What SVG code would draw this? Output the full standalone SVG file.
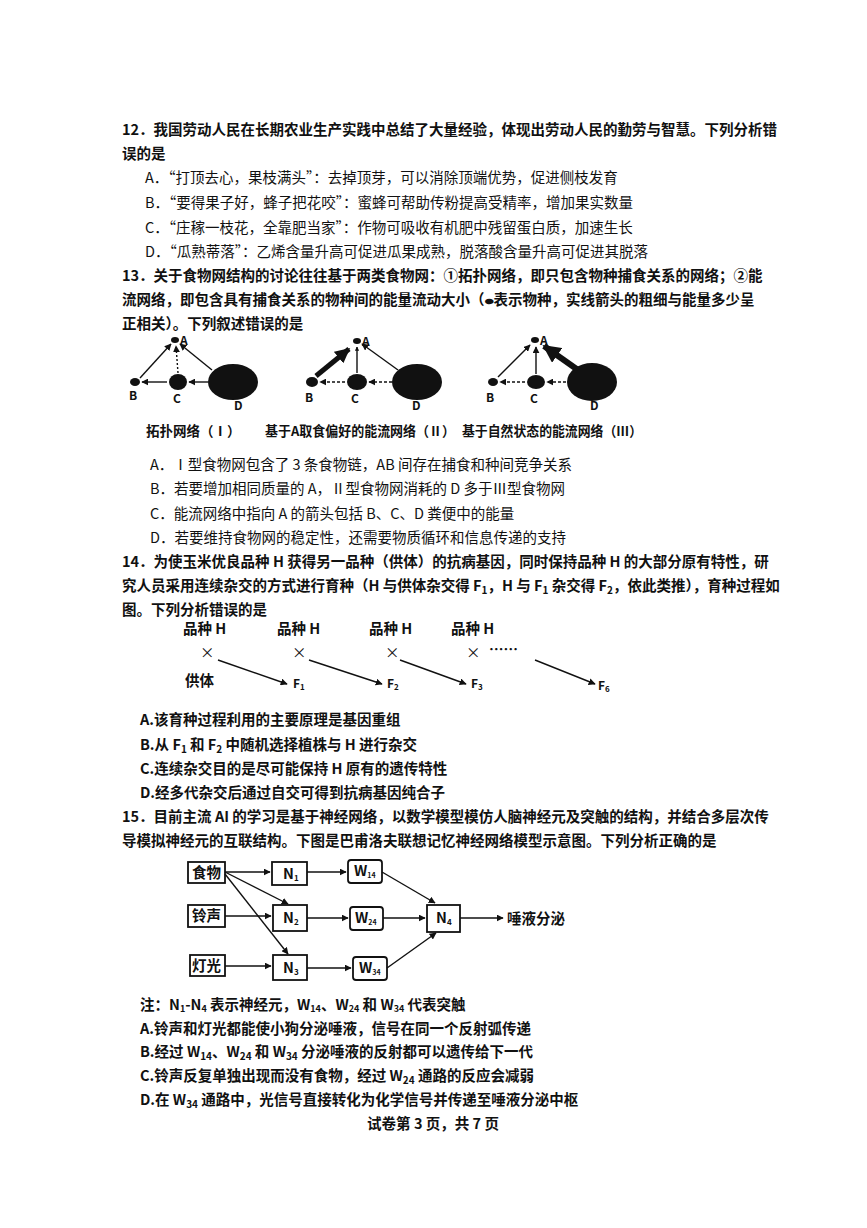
<svg xmlns="http://www.w3.org/2000/svg" width="867" height="1228" viewBox="0 0 867 1228">
<defs>
<marker id="ah" viewBox="0 0 10 10" refX="9" refY="5" markerWidth="5" markerHeight="5" orient="auto"><path d="M0,0L10,5L0,10z" fill="#111"/></marker>
<marker id="ahs" viewBox="0 0 10 10" refX="9" refY="5" markerWidth="3" markerHeight="3" orient="auto"><path d="M0,0L10,5L0,10z" fill="#111"/></marker>
</defs>
<style>
text{font-family:"Noto Sans CJK SC","Liberation Serif",serif;font-size:14.5px;fill:#111}
.b{font-weight:bold}
.sm{font-size:12px}
.cap{font-size:13.5px;font-weight:bold}
.box{fill:#fff;stroke:#111;stroke-width:1.8}
.ln{stroke:#111;stroke-width:1.4;fill:none}
.sp{fill:#111}
</style>
<rect width="867" height="1228" fill="#fff"/>
<g id="q12">
<text x="122" y="135" class="b">12．我国劳动人民在长期农业生产实践中总结了大量经验，体现出劳动人民的勤劳与智慧。下列分析错</text>
<text x="122" y="159" class="b">误的是</text>
<text x="145" y="183">A．“打顶去心，果枝满头”：去掉顶芽，可以消除顶端优势，促进侧枝发育</text>
<text x="145" y="208">B．“要得果子好，蜂子把花咬”：蜜蜂可帮助传粉提高受精率，增加果实数量</text>
<text x="145" y="233">C．“庄稼一枝花，全靠肥当家”：作物可吸收有机肥中残留蛋白质，加速生长</text>
<text x="145" y="257">D．“瓜熟蒂落”：乙烯含量升高可促进瓜果成熟，脱落酸含量升高可促进其脱落</text>
</g>
<g id="q13">
<text x="122" y="281" class="b">13．关于食物网结构的讨论往往基于两类食物网：①拓扑网络，即只包含物种捕食关系的网络；②能</text>
<text x="122" y="305" class="b">流网络，即包含具有捕食关系的物种间的能量流动大小（<tspan font-size="10">⬬</tspan>表示物种，实线箭头的粗细与能量多少呈</text>
<text x="122" y="329" class="b">正相关）。下列叙述错误的是</text>
</g>
<g id="web1">
<ellipse cx="175" cy="340" rx="4" ry="3" class="sp"/><ellipse cx="135" cy="382" rx="5" ry="4" class="sp"/><ellipse cx="178" cy="382" rx="9" ry="8" class="sp"/><ellipse cx="233" cy="382" rx="25" ry="18" class="sp"/>
<text x="180" y="345" class="b sm">A</text><text x="129" y="400" class="b sm">B</text><text x="173" y="403" class="b sm">C</text><text x="234" y="410" class="b sm">D</text>
<line x1="140" y1="378" x2="171" y2="344" class="ln" stroke-width="1.2" marker-end="url(#ah)"/>
<line x1="178" y1="373" x2="176" y2="346" class="ln" stroke-dasharray="2,2" marker-end="url(#ah)"/>
<line x1="212" y1="370" x2="180" y2="344" class="ln" stroke-width="1.8" marker-end="url(#ah)"/>
<line x1="167" y1="382" x2="142" y2="382" class="ln" stroke-width="2" marker-end="url(#ah)"/>
<line x1="208" y1="382" x2="189" y2="382" class="ln" stroke-width="2" marker-end="url(#ah)"/>
<text x="146" y="436" class="cap">拓扑网络（Ⅰ）</text>
</g>
<g id="web2">
<ellipse cx="357" cy="341" rx="4" ry="3" class="sp"/><ellipse cx="312" cy="382" rx="6" ry="5" class="sp"/><ellipse cx="357" cy="382" rx="10" ry="8" class="sp"/><ellipse cx="417" cy="382" rx="25" ry="18" class="sp"/>
<text x="362" y="346" class="b sm">A</text><text x="305" y="402" class="b sm">B</text><text x="351" y="403" class="b sm">C</text><text x="412" y="410" class="b sm">D</text>
<line x1="316" y1="376" x2="349" y2="349" stroke="#111" stroke-width="5" marker-end="url(#ahs)"/>
<line x1="357" y1="373" x2="357" y2="347" class="ln" stroke-width="2.5" marker-end="url(#ahs)"/>
<line x1="398" y1="370" x2="362" y2="344" class="ln" stroke-width="1.4" marker-end="url(#ah)"/>
<line x1="345" y1="382" x2="320" y2="382" class="ln" stroke-dasharray="3,2" marker-end="url(#ah)"/>
<line x1="392" y1="382" x2="369" y2="382" class="ln" stroke-dasharray="3,2" marker-end="url(#ah)"/>
<text x="265" y="436" class="cap" textLength="190" lengthAdjust="spacingAndGlyphs">基于A取食偏好的能流网络（Ⅱ）</text>
</g>
<g id="web3">
<ellipse cx="535" cy="340" rx="4" ry="3" class="sp"/><ellipse cx="493" cy="382" rx="5" ry="4" class="sp"/><ellipse cx="536" cy="382" rx="9" ry="7" class="sp"/><ellipse cx="592" cy="382" rx="25" ry="19" class="sp"/>
<text x="540" y="345" class="b sm">A</text><text x="486" y="402" class="b sm">B</text><text x="530" y="403" class="b sm">C</text><text x="590" y="410" class="b sm">D</text>
<line x1="498" y1="377" x2="530" y2="345" class="ln" stroke-width="1.1" marker-end="url(#ah)"/>
<line x1="536" y1="374" x2="536" y2="347" class="ln" stroke-width="1.6" marker-end="url(#ah)"/>
<line x1="578" y1="370" x2="544" y2="346" stroke="#111" stroke-width="6" marker-end="url(#ahs)"/>
<line x1="525" y1="382" x2="500" y2="382" class="ln" stroke-dasharray="3,2" marker-end="url(#ah)"/>
<line x1="566" y1="382" x2="547" y2="382" class="ln" stroke-dasharray="3,2" marker-end="url(#ah)"/>
<text x="462" y="436" class="cap" textLength="180" lengthAdjust="spacingAndGlyphs">基于自然状态的能流网络（Ⅲ）</text>
</g>
<g id="q13opt">
<text x="150" y="470">A．Ⅰ型食物网包含了 3 条食物链，AB 间存在捕食和种间竞争关系</text>
<text x="150" y="494">B．若要增加相同质量的 A，Ⅱ型食物网消耗的 D 多于Ⅲ型食物网</text>
<text x="150" y="519">C．能流网络中指向 A 的箭头包括 B、C、D 粪便中的能量</text>
<text x="150" y="543">D．若要维持食物网的稳定性，还需要物质循环和信息传递的支持</text>
</g>
<g id="q14">
<text x="122" y="567" class="b">14．为使玉米优良品种 H 获得另一品种（供体）的抗病基因，同时保持品种 H 的大部分原有特性，研</text>
<text x="122" y="591" class="b">究人员采用连续杂交的方式进行育种（H 与供体杂交得 F<tspan font-size="10" dy="3">1</tspan><tspan dy="-3">，H 与 F</tspan><tspan font-size="10" dy="3">1</tspan><tspan dy="-3"> 杂交得 F</tspan><tspan font-size="10" dy="3">2</tspan><tspan dy="-3">，依此类推），育种过程如</tspan></text>
<text x="122" y="615" class="b">图。下列分析错误的是</text>
</g>
<g id="cross">
<text x="183" y="634" class="b" font-size="13">品种 H</text><text x="277" y="634" class="b" font-size="13">品种 H</text><text x="369" y="634" class="b" font-size="13">品种 H</text><text x="451" y="634" class="b" font-size="13">品种 H</text>
<text x="200" y="658">×</text><text x="292" y="658">×</text><text x="385" y="658">×</text><text x="466" y="658">×</text>
<text x="489" y="655" class="b">……</text>
<text x="185" y="686" class="b">供体</text>
<text x="293" y="688" class="b sm">F<tspan font-size="8" dy="2">1</tspan></text>
<text x="387" y="688" class="b sm">F<tspan font-size="8" dy="2">2</tspan></text>
<text x="471" y="688" class="b sm">F<tspan font-size="8" dy="2">3</tspan></text>
<text x="598" y="690" class="b sm">F<tspan font-size="8" dy="2">6</tspan></text>
</g>
<g id="q14opt">
<text x="140" y="725" class="b">A.该育种过程利用的主要原理是基因重组</text>
<text x="140" y="750" class="b">B.从 F<tspan font-size="10" dy="3">1</tspan><tspan dy="-3"> 和 F</tspan><tspan font-size="10" dy="3">2</tspan><tspan dy="-3"> 中随机选择植株与 H 进行杂交</tspan></text>
<text x="140" y="774" class="b">C.连续杂交目的是尽可能保持 H 原有的遗传特性</text>
<text x="140" y="798" class="b">D.经多代杂交后通过自交可得到抗病基因纯合子</text>
</g>
<g id="q15">
<text x="122" y="822" class="b">15．目前主流 AI 的学习是基于神经网络，以数学模型模仿人脑神经元及突触的结构，并结合多层次传</text>
<text x="122" y="846" class="b">导模拟神经元的互联结构。下图是巴甫洛夫联想记忆神经网络模型示意图。下列分析正确的是</text>
</g>
<g id="nodes">
<g id="n-food"><rect x="188" y="862" width="37" height="21" class="box"/><text x="192" y="878" class="b" font-size="13">食物</text></g>
<g id="n-bell"><rect x="188" y="905" width="37" height="22" class="box"/><text x="192" y="921" class="b" font-size="13">铃声</text></g>
<g id="n-light"><rect x="190" y="955" width="35" height="21" class="box"/><text x="192" y="971" class="b" font-size="13">灯光</text></g>
<g id="n-N1"><rect x="272" y="862" width="35" height="23" class="box"/><text x="283" y="879" class="b" font-size="13">N<tspan font-size="8" dy="2">1</tspan></text></g>
<g id="n-N2"><rect x="273" y="905" width="34" height="26" class="box"/><text x="283" y="923" class="b" font-size="13">N<tspan font-size="8" dy="2">2</tspan></text></g>
<g id="n-N3"><rect x="273" y="955" width="34" height="25" class="box"/><text x="283" y="973" class="b" font-size="13">N<tspan font-size="8" dy="2">3</tspan></text></g>
<g id="n-W14"><rect x="348" y="860" width="34" height="23" rx="3" class="box"/><text x="354" y="876" class="b" font-size="11">W<tspan font-size="7" dy="2">14</tspan></text></g>
<g id="n-W24"><rect x="350" y="907" width="33" height="23" rx="3" class="box"/><text x="355" y="923" class="b" font-size="11">W<tspan font-size="7" dy="2">24</tspan></text></g>
<g id="n-W34"><rect x="353" y="957" width="34" height="23" rx="3" class="box"/><text x="359" y="973" class="b" font-size="11">W<tspan font-size="7" dy="2">34</tspan></text></g>
<g id="n-N4"><rect x="427" y="905" width="33" height="27" class="box"/><text x="436" y="923" class="b" font-size="13">N<tspan font-size="8" dy="2">4</tspan></text></g>
<g id="n-out"><text x="507" y="924" class="b" font-size="13">唾液分泌</text></g>
</g>
<g id="connectors">
<line x1="225" y1="872" x2="270" y2="872" class="ln" marker-end="url(#ah)"/>
<line x1="225" y1="872" x2="288" y2="904" class="ln" marker-end="url(#ah)"/>
<line x1="225" y1="874" x2="288" y2="954" class="ln" marker-end="url(#ah)"/>
<line x1="225" y1="916" x2="271" y2="916" class="ln" marker-end="url(#ah)"/>
<line x1="225" y1="966" x2="271" y2="966" class="ln" marker-end="url(#ah)"/>
<line x1="307" y1="872" x2="346" y2="872" class="ln" marker-end="url(#ah)"/>
<line x1="307" y1="918" x2="348" y2="918" class="ln" marker-end="url(#ah)"/>
<line x1="307" y1="968" x2="351" y2="968" class="ln" marker-end="url(#ah)"/>
<line x1="382" y1="872" x2="435" y2="903" class="ln" marker-end="url(#ah)"/>
<line x1="383" y1="918" x2="425" y2="918" class="ln" marker-end="url(#ah)"/>
<line x1="387" y1="968" x2="436" y2="933" class="ln" marker-end="url(#ah)"/>
<line x1="460" y1="918" x2="503" y2="918" class="ln" marker-end="url(#ah)"/>
<line x1="218" y1="660" x2="287" y2="684" class="ln" marker-end="url(#ah)"/>
<line x1="309" y1="660" x2="382" y2="684" class="ln" marker-end="url(#ah)"/>
<line x1="400" y1="660" x2="466" y2="684" class="ln" marker-end="url(#ah)"/>
<line x1="535" y1="660" x2="595" y2="684" class="ln" marker-end="url(#ah)"/>
</g>
<g id="q15opt">
<text x="140" y="1010" class="b" font-size="13.5">注：N<tspan font-size="9" dy="2">1</tspan><tspan dy="-2">-N</tspan><tspan font-size="9" dy="2">4</tspan><tspan dy="-2"> 表示神经元，W</tspan><tspan font-size="9" dy="2">14</tspan><tspan dy="-2">、W</tspan><tspan font-size="9" dy="2">24</tspan><tspan dy="-2"> 和 W</tspan><tspan font-size="9" dy="2">34</tspan><tspan dy="-2"> 代表突触</tspan></text>
<text x="140" y="1034" class="b">A.铃声和灯光都能使小狗分泌唾液，信号在同一个反射弧传递</text>
<text x="140" y="1057" class="b">B.经过 W<tspan font-size="10" dy="3">14</tspan><tspan dy="-3">、W</tspan><tspan font-size="10" dy="3">24</tspan><tspan dy="-3"> 和 W</tspan><tspan font-size="10" dy="3">34</tspan><tspan dy="-3"> 分泌唾液的反射都可以遗传给下一代</tspan></text>
<text x="140" y="1081" class="b">C.铃声反复单独出现而没有食物，经过 W<tspan font-size="10" dy="3">24</tspan><tspan dy="-3"> 通路的反应会减弱</tspan></text>
<text x="140" y="1105" class="b">D.在 W<tspan font-size="10" dy="3">34</tspan><tspan dy="-3"> 通路中，光信号直接转化为化学信号并传递至唾液分泌中枢</tspan></text>
<text x="433" y="1129" class="b" font-size="13" text-anchor="middle">试卷第 3 页，共 7 页</text>
</g>
</svg>
